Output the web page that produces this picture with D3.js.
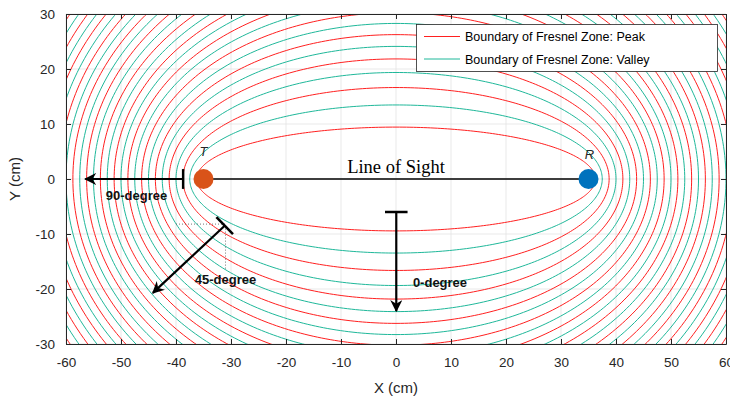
<!DOCTYPE html>
<html lang="en">
<head>
    <meta charset="UTF-8">
    <title>Fresnel Zones</title>
    <script src="https://cdnjs.cloudflare.com/ajax/libs/d3/7.8.5/d3.min.js"></script>
    <style>
        body { margin: 0; background: #fff; }
        svg { display: block; font-family: "Liberation Sans", Arial, sans-serif; }
    </style>
</head>
<body>
    <div id="chart"></div>
    <script>
        // axis ticks (cm)
        const xTicks = [-60, -50, -40, -30, -20, -10, 0, 10, 20, 30, 40, 50, 60];
        const yTicks = [-30, -20, -10, 0, 10, 20, 30];

        // transmitter / receiver positions (cm) and wavelength (cm)
        const txPos = [-35, 0];
        const rxPos = [35, 0];
        const wavelength = 5;

        // Fresnel zone boundary indices: odd = peak, even = valley
        const zoneIndex = [1, 2, 3, 4, 5, 6, 7, 8, 9, 10, 11, 12, 13, 14, 15,
            16, 17, 18, 19, 20, 21, 22, 23, 24, 25, 26, 27, 28, 29, 30];

        // annotation arrows in data units: [bar start, bar end, arrow tip]
        const arrow90 = [[-38.7, 1.8], [-38.7, -1.8], [-56.5, 0]];
        const arrow0 = [[-2, -6], [2.1, -6], [0.05, -24]];
        const arrow45 = [[-32.65, -6.95], [-29.64, -10.04], [-44.2, -20.7]];
        const guideDots = [[-40, -8.2], [-31, -8.2], [-31, -16.5]];

        const legendLabels = ["Boundary of Fresnel Zone: Peak", "Boundary of Fresnel Zone: Valley"];
        const peakColor = "#ff2020";
        const valleyColor = "#1fb89a";

        const width = 730, height = 400;
        const margin = {top: 14, right: 4, bottom: 56, left: 66};

        const svg = d3.select("#chart").append("svg")
            .attr("width", width)
            .attr("height", height);

        const x = d3.scaleLinear().domain([-60, 60]).range([margin.left, width - margin.right]);
        const y = d3.scaleLinear().domain([-30, 30]).range([height - margin.bottom, margin.top]);

        const defs = svg.append("defs");
        defs.append("clipPath").attr("id", "plotClip")
            .append("rect")
            .attr("x", x(-60)).attr("y", y(30))
            .attr("width", x(60) - x(-60)).attr("height", y(-30) - y(30));

        // grid
        const grid = svg.append("g");
        grid.selectAll(".gx").data(xTicks).enter().append("line")
            .attr("x1", d => x(d)).attr("x2", d => x(d))
            .attr("y1", y(-30)).attr("y2", y(30))
            .attr("stroke", "#e3e3e3").attr("stroke-width", 0.8);
        grid.selectAll(".gy").data(yTicks).enter().append("line")
            .attr("y1", d => y(d)).attr("y2", d => y(d))
            .attr("x1", x(-60)).attr("x2", x(60))
            .attr("stroke", "#e3e3e3").attr("stroke-width", 0.8);

        // ellipses
        const c = (rxPos[0] - txPos[0]) / 2;
        const cx = (rxPos[0] + txPos[0]) / 2;
        const line = d3.line().x(d => x(d[0])).y(d => y(d[1]));
        const angles = d3.range(0, 361, 1).map(t => t * Math.PI / 180);

        const curves = svg.append("g").attr("clip-path", "url(#plotClip)");
        zoneIndex.forEach(n => {
            const a = c + n * wavelength / 4;
            const b = Math.sqrt(a * a - c * c);
            const pts = angles.map(t => [cx + a * Math.cos(t), b * Math.sin(t)]);
            curves.append("path")
                .attr("d", line(pts))
                .attr("fill", "none")
                .attr("stroke", n % 2 === 1 ? peakColor : valleyColor)
                .attr("stroke-width", 1);
        });

        // axes box with inward ticks
        const axisColor = "#262626";
        const fmt = d => String(d);
        const xAxis = svg.append("g")
            .attr("transform", `translate(0,${y(-30)})`)
            .call(d3.axisBottom(x).tickValues(xTicks).tickFormat(fmt).tickSizeInner(-5).tickSizeOuter(0).tickPadding(13));
        const xAxisTop = svg.append("g")
            .attr("transform", `translate(0,${y(30)})`)
            .call(d3.axisTop(x).tickValues(xTicks).tickSizeInner(-5).tickSizeOuter(0).tickFormat(""));
        const yAxis = svg.append("g")
            .attr("transform", `translate(${x(-60)},0)`)
            .call(d3.axisLeft(y).tickValues(yTicks).tickFormat(fmt).tickSizeInner(-5).tickSizeOuter(0).tickPadding(11));
        const yAxisRight = svg.append("g")
            .attr("transform", `translate(${x(60)},0)`)
            .call(d3.axisRight(y).tickValues(yTicks).tickSizeInner(-5).tickSizeOuter(0).tickFormat(""));
        [xAxis, xAxisTop, yAxis, yAxisRight].forEach(g => {
            g.selectAll("path, line").attr("stroke", axisColor).attr("stroke-width", 1);
            g.selectAll("text").attr("fill", axisColor).style("font-size", "13.5px")
                .style("font-family", "'Liberation Sans', Arial, sans-serif");
        });

        svg.append("text").attr("x", x(0)).attr("y", 393)
            .attr("text-anchor", "middle").attr("fill", axisColor)
            .style("font-size", "15px").text("X (cm)");
        svg.append("text")
            .attr("transform", `translate(20,${y(0)}) rotate(-90)`)
            .attr("text-anchor", "middle").attr("fill", axisColor)
            .style("font-size", "15px").text("Y (cm)");

        // line of sight
        svg.append("line")
            .attr("x1", x(txPos[0])).attr("y1", y(txPos[1]))
            .attr("x2", x(rxPos[0])).attr("y2", y(rxPos[1]))
            .attr("stroke", "#000").attr("stroke-width", 1.3);
        svg.append("text").attr("x", x(0)).attr("y", 173)
            .attr("text-anchor", "middle")
            .style("font-family", "'Liberation Serif', 'DejaVu Serif', serif")
            .style("font-size", "18.5px").text("Line of Sight");

        svg.append("circle").attr("cx", x(txPos[0])).attr("cy", y(txPos[1])).attr("r", 10)
            .attr("fill", "#D95319");
        svg.append("circle").attr("cx", x(rxPos[0])).attr("cy", y(rxPos[1])).attr("r", 10)
            .attr("fill", "#0072BD");
        svg.append("text").attr("x", x(txPos[0])).attr("y", 156)
            .attr("text-anchor", "middle").style("font-style", "italic").style("font-size", "13px")
            .attr("fill", "#262626").text("T");
        svg.append("text").attr("x", x(rxPos[0]) + 1).attr("y", 159)
            .attr("text-anchor", "middle").style("font-style", "italic").style("font-size", "13px")
            .attr("fill", "#262626").text("R");

        // arrow marker
        defs.append("marker")
            .attr("id", "head")
            .attr("viewBox", "0 0 10 10")
            .attr("refX", 9).attr("refY", 5)
            .attr("markerWidth", 5.5).attr("markerHeight", 5.5)
            .attr("markerUnits", "strokeWidth")
            .attr("orient", "auto")
            .append("path")
            .attr("d", "M0,0 L10,5 L0,10 L3,5 Z")
            .attr("fill", "#000");

        function drawArrow(spec) {
            const [p0, p1, tip] = spec;
            svg.append("line")
                .attr("x1", x(p0[0])).attr("y1", y(p0[1]))
                .attr("x2", x(p1[0])).attr("y2", y(p1[1]))
                .attr("stroke", "#000").attr("stroke-width", 2.5);
            const mx = (p0[0] + p1[0]) / 2, my = (p0[1] + p1[1]) / 2;
            svg.append("line")
                .attr("x1", x(mx)).attr("y1", y(my))
                .attr("x2", x(tip[0])).attr("y2", y(tip[1]))
                .attr("stroke", "#000").attr("stroke-width", 2.2)
                .attr("marker-end", "url(#head)");
        }

        svg.append("path")
            .attr("d", line(guideDots))
            .attr("fill", "none").attr("stroke", "#555")
            .attr("stroke-width", 0.8).attr("stroke-dasharray", "1,2");

        drawArrow(arrow90);
        drawArrow(arrow0);
        drawArrow(arrow45);

        [["90-degree", 136.5, 200], ["0-degree", 440, 287], ["45-degree", 225.5, 284]].forEach(t => {
            svg.append("text").attr("x", t[1]).attr("y", t[2])
                .attr("text-anchor", "middle")
                .style("font-weight", "bold").style("font-size", "13px")
                .attr("fill", "#111").text(t[0]);
        });

        // legend
        const legend = svg.append("g");
        legend.append("rect")
            .attr("x", 416.5).attr("y", 24.5).attr("width", 301).attr("height", 47)
            .attr("fill", "#fff").attr("stroke", axisColor).attr("stroke-width", 0.8);
        legendLabels.forEach((lab, i) => {
            const ly = 36.5 + i * 22.5;
            legend.append("line")
                .attr("x1", 424).attr("x2", 460).attr("y1", ly).attr("y2", ly)
                .attr("stroke", i === 0 ? peakColor : valleyColor).attr("stroke-width", 1);
            legend.append("text")
                .attr("x", 465).attr("y", ly + 4.5)
                .attr("fill", "#000").style("font-size", "12.5px").text(lab);
        });
    </script>
</body>
</html>
